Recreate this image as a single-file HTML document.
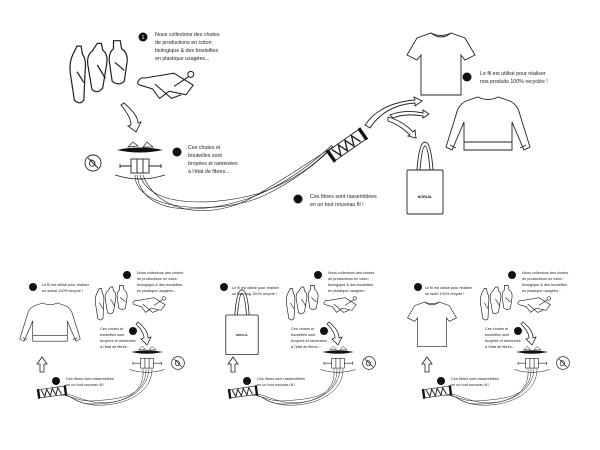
<!DOCTYPE html>
<html><head><meta charset="utf-8"><style>
html,body{margin:0;padding:0;background:#fff;}
svg{display:block;}
text{font-family:"Liberation Sans",sans-serif;fill:#222;}
</style></head><body>
<svg width="600" height="450" viewBox="0 0 600 450" xmlns="http://www.w3.org/2000/svg">
<defs>
<g id="bottles" fill="none" stroke="#222" stroke-width="0.9">
  <path d="M0 12 l3 -6 h3 l1 6 q3 4 2 12 l-1 22 q-3 4 -7 0 l-3 -20 q-1 -8 2 -14z"/>
  <path d="M14 10 l4 -6 h3 l1 5 q4 3 3 10 l-3 18 q-4 5 -8 1 l-3 -18 q-1 -7 3 -10z"/>
  <path d="M30 2 h5 l1 6 q5 3 4 10 l-2 14 q-4 4 -9 0 l-2 -14 q-1 -7 3 -10z"/>
  <path d="M3 25 l5 8 M18 20 l6 10 M31 18 l7 6"/>
</g>
<g id="cloth" fill="none" stroke="#222" stroke-width="0.9">
  <path d="M0 8 q2 -4 6 -3 l24 -4 l16 10 l-6 8 l-14 -3 l-8 6 l-6 -8 l-10 -3 q-3 -1 -2 -3z"/>
  <path d="M14 10 l14 12 l8 -3"/>
  <circle cx="44" cy="2" r="2.5"/><path d="M42 4 l-12 8"/>
</g>
<g id="machine">
  <path d="M-23 0 q23 -5 46 0 q-23 5 -46 0z" fill="#111"/>
  <path d="M-12 -3 l5 -5 l5 4z M3 -3 l4 -5 l6 5z" fill="#fff" stroke="#222" stroke-width="0.7"/>
  <g fill="none" stroke="#222" stroke-width="0.9">
  <rect x="-9" y="9" width="18" height="14"/>
  <path d="M-3 9 v14 M3 9 v14 M-20 16 h11 M9 16 h12 M-20 14 v4 M21 14 v4"/>
  <path d="M-25 25 q25 8 50 0"/>
  </g>
</g>
<g id="noicon" fill="none" stroke="#222" stroke-width="0.9">
  <circle r="8"/><path d="M-5 -5 l10 10"/><path d="M-2 -3 q-3 4 0 6 q4 1 4 -3 q-1 -3 -4 -3z"/>
</g>
<g id="spool">
  <rect x="-18" y="-6" width="36" height="12" fill="#fff" stroke="#222" stroke-width="0.9"/>
  <path d="M-15 -5 l4 10 l4 -10 l4 10 l4 -10 l4 10 l4 -10 l4 10" fill="none" stroke="#222" stroke-width="1.4"/>
  <rect x="-21" y="-7" width="3" height="14" fill="#111"/><rect x="18" y="-7" width="3" height="14" fill="#111"/>
</g>
<g id="tee" fill="none" stroke="#222" stroke-width="0.9">
  <path d="M-10 0 q10 5 20 0 l14 5 l10 17 l-10 5 l-4 -5 v40 h-40 v-40 l-4 5 l-10 -5 l10 -17z"/>
  <path d="M-10 0 q10 8 20 0"/>
</g>
<g id="sweat" fill="none" stroke="#222" stroke-width="0.9">
  <path d="M-10 0 q10 5 20 0 l12 4 q8 4 10 14 l10 32 l-6 3 l-12 -28 v28 h-48 v-28 l-12 28 l-6 -3 l10 -32 q2 -10 10 -14z"/>
  <path d="M-24 45 h48 M-38 48 l6 3 M38 48 l-6 3"/>
</g>
<g id="tote" fill="none" stroke="#222" stroke-width="0.9">
  <rect x="-18" y="0" width="36" height="44" rx="1"/>
  <path d="M-8 0 q2 -28 8 -28 q6 0 8 28 M-5 0 q2 -24 5 -24 q3 0 5 24"/>
</g>
<g id="num"><circle r="4" fill="#111"/></g>
</defs>

<!-- TOP -->
<use href="#bottles" transform="translate(73,38) scale(1.35)"/>
<use href="#cloth" transform="translate(138,72) scale(1.2)"/>
<circle cx="143" cy="37" r="4.5" fill="#111"/><text x="143" y="39" font-size="5" text-anchor="middle" style="fill:#fff">1</text>
<text font-size="5.3"><tspan x="155" y="36">Nous collectons des chutes</tspan><tspan x="155" y="44">de productions en coton</tspan><tspan x="155" y="52">biologique &amp; des bouteilles</tspan><tspan x="155" y="60">en plastique usagées...</tspan></text>
<path d="M124 103 q14 12 14 20 l3 -1 l-5 10 l-8 -6 l3 -1 q0 -8 -10 -20z" fill="#fff" stroke="#222" stroke-width="0.9"/>
<use href="#machine" x="140" y="150"/>
<use href="#noicon" x="93" y="163"/>
<circle cx="177" cy="152" r="4.5" fill="#111"/>
<text font-size="5.3"><tspan x="188" y="149">Ces chutes et</tspan><tspan x="188" y="157">bouteilles sont</tspan><tspan x="188" y="165">broyées et ramenées</tspan><tspan x="188" y="173">à l'état de fibres...</tspan></text>
<g fill="none" stroke="#222" stroke-width="0.6">
<path d="M137 175 c5 40 60 40 110 24 c40 -14 70 -40 85 -54"/>
<path d="M140 175 c10 35 80 30 120 18 c40 -14 60 -34 73 -47"/>
<path d="M143 175 c15 40 70 45 110 22 c35 -20 60 -38 80 -50"/>
<path d="M135 175 c0 38 90 40 130 20 c30 -14 55 -35 68 -48"/>
</g>
<use href="#spool" transform="translate(347,145) rotate(-35)"/>
<circle cx="298" cy="199" r="4.5" fill="#111"/>
<text font-size="5.3"><tspan x="310" y="198">Ces fibres sont rassemblées</tspan><tspan x="310" y="206">en un tout nouveau fil !</tspan></text>
<g fill="#fff" stroke="#222" stroke-width="0.9">
<path d="M365 125 q15 -22 50 -25 l-1 -3 l8 4 l-7 5 l0 -3 q-30 2 -45 25z"/>
<path d="M390 115 q15 -6 33 -2 l0 -3 l6 4 l-6 4 l0 -2 q-18 -3 -30 2z"/>
<path d="M388 117 q15 4 25 15 l2 -2 l1 8 l-8 -2 l2 -1 q-10 -10 -22 -14z"/>
</g>
<use href="#tee" x="441" y="33"/>
<circle cx="467" cy="77" r="4.5" fill="#111"/>
<text font-size="5.3"><tspan x="480" y="75">Le fil est utilisé pour réaliser</tspan><tspan x="480" y="83">nos produits 100% recyclés !</tspan></text>
<use href="#sweat" x="488" y="97"/>
<use href="#tote" x="425" y="170"/>
<text x="425" y="198" font-size="3.5" text-anchor="middle" font-weight="bold">NOPAAL</text>

<!-- BOTTOM PANELS -->
<g id="panel">
<use href="#num" x="127" y="275"/>
<text font-size="3.8"><tspan x="137" y="274">Nous collectons des chutes</tspan><tspan x="137" y="280">de productions en coton</tspan><tspan x="137" y="286">biologique &amp; des bouteilles</tspan><tspan x="137" y="292">en plastique usagées...</tspan></text>
<use href="#bottles" transform="translate(97,284) scale(0.75)"/>
<use href="#cloth" transform="translate(133,297) scale(0.7)"/>
<use href="#num" x="133" y="331"/>
<text font-size="3.8"><tspan x="100" y="330">Ces chutes et</tspan><tspan x="100" y="336">bouteilles sont</tspan><tspan x="100" y="342">broyées et ramenées</tspan><tspan x="100" y="348">à l'état de fibres...</tspan></text>
<path d="M138 322 q10 8 10 16 l3 -1 l-4 8 l-6 -6 l3 -1 q0 -6 -8 -14z" fill="#fff" stroke="#222" stroke-width="0.8"/>
<use href="#machine" transform="translate(147,352) scale(0.7)"/>
<use href="#noicon" transform="translate(178,363) scale(0.8)"/>
<g fill="none" stroke="#222" stroke-width="0.5">
<path d="M143 369 c2 25 -20 35 -50 35 c-20 0 -20 -10 -35 -10"/>
<path d="M146 369 c0 30 -30 30 -55 32 c-15 0 -20 -6 -33 -6"/>
<path d="M149 369 c-2 30 -40 38 -60 32 c-15 -4 -20 -8 -31 -8"/>
<path d="M152 369 c0 25 -30 38 -58 36 c-18 -1 -25 -12 -36 -12"/>
</g>
<use href="#spool" transform="translate(52,392) rotate(-8) scale(0.7)"/>
<use href="#num" x="56" y="381"/>
<text font-size="3.8"><tspan x="66" y="380">Ces fibres sont rassemblées</tspan><tspan x="66" y="386">en un tout nouveau fil !</tspan></text>
<path d="M40 372 v-8 h-3 l5 -7 l5 7 h-3 v8z" fill="#fff" stroke="#222" stroke-width="0.8"/>
<use href="#num" x="33" y="287"/>
</g>
<use href="#panel" x="191"/>
<use href="#panel" x="385"/>

<text font-size="3.8"><tspan x="42" y="286">Le fil est utilisé pour réaliser</tspan><tspan x="42" y="292">un sweat 100% recyclé !</tspan></text>
<use href="#sweat" transform="translate(50,303) scale(0.72)"/>
<text font-size="3.8"><tspan x="232" y="289">Le fil est utilisé pour réaliser</tspan><tspan x="232" y="295">un tote bag 100% recyclé !</tspan></text>
<use href="#tote" transform="translate(242,315) scale(0.9)"/>
<text x="242" y="336" font-size="3" text-anchor="middle" font-weight="bold">NOPAAL</text>
<text font-size="3.8"><tspan x="425" y="289">Le fil est utilisé pour réaliser</tspan><tspan x="425" y="295">un tshirt 100% recyclé !</tspan></text>
<use href="#tee" transform="translate(432,302) scale(0.72)"/>
</svg>
</body></html>
